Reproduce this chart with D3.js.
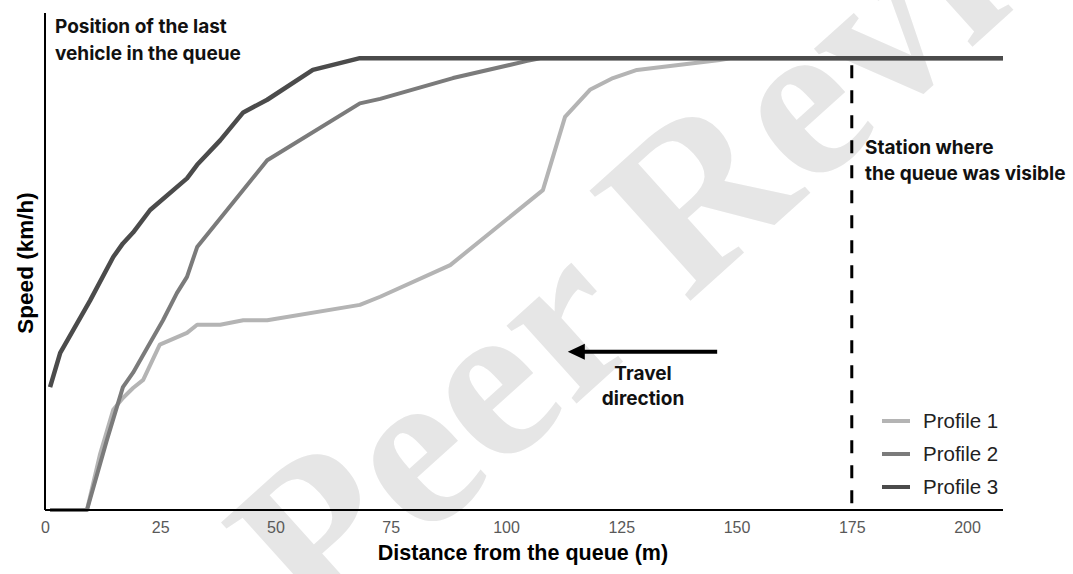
<!DOCTYPE html>
<html><head><meta charset="utf-8">
<script src="https://cdn.jsdelivr.net/npm/d3@7"></script>
<style>body{margin:0;background:#fff}</style></head>
<body><svg id="c" width="1073" height="574"></svg>
<script>
// ---- data ----
const xTicks = [0, 25, 50, 75, 100, 125, 150, 175, 200];
const profileNames = ["Profile 1", "Profile 2", "Profile 3"];
const profileColors = ["#b4b4b4", "#7b7b7b", "#4b4b4b"];

const profile1Distance = [1.1, 9.1, 11.9, 14.8, 16.9, 19.1, 21.3, 24.9, 30.8, 33.0, 38.0, 43.0, 48.2, 68.3, 72.7, 87.9, 108.0, 112.8, 118.2, 123.2, 128.4, 146.4, 148.6, 207.8];
const profile1Speed    = [0, 0, 6.1, 11.1, 12.4, 13.5, 14.4, 18.3, 19.6, 20.5, 20.5, 21.0, 21.0, 22.7, 23.6, 27.1, 35.4, 43.5, 46.5, 47.8, 48.7, 49.8, 50, 50];

const profile2Distance = [1.1, 9.1, 13.4, 16.9, 19.1, 22.8, 25.6, 28.6, 30.8, 33.0, 48.2, 68.3, 72.7, 88.5, 104.6, 107.4, 207.8];
const profile2Speed    = [0, 0, 7.7, 13.6, 15.2, 18.5, 21.0, 24.0, 25.8, 29.1, 38.7, 45.0, 45.5, 47.8, 49.7, 50, 50];

const profile3Distance = [1.1, 3.3, 9.8, 14.8, 16.9, 19.1, 22.8, 30.8, 33.0, 38.0, 43.0, 48.2, 58.1, 68.3, 207.8];
const profile3Speed    = [13.6, 17.4, 23.2, 28.0, 29.5, 30.7, 33.2, 36.7, 38.2, 40.9, 44.0, 45.4, 48.7, 50, 50];

const stationDistance = 175;
const xMax = 207.8, yMax = 55;

// ---- drawing ----
const svg = d3.select("#c");
const x = d3.scaleLinear().domain([0, xMax]).range([45, 1003]);
const y = d3.scaleLinear().domain([0, yMax]).range([510, 13]);

// watermark (behind)
svg.append("text")
  .attr("transform", "translate(318,636) rotate(-42)")
  .attr("font-family", "Liberation Serif, DejaVu Serif, serif")
  .attr("font-weight", "bold")
  .attr("font-size", 228)
  .attr("fill", "#e6e6e6")
  .text("Peer Review");

const series = [
  {d: profile1Distance, s: profile1Speed},
  {d: profile2Distance, s: profile2Speed},
  {d: profile3Distance, s: profile3Speed}
];
const line = d3.line().x(p => x(p[0])).y(p => y(p[1]));
series.forEach((sr, i) => {
  svg.append("path")
    .datum(sr.d.map((v, k) => [v, sr.s[k]]))
    .attr("d", line)
    .attr("fill", "none")
    .attr("stroke", profileColors[i])
    .attr("stroke-width", i === 2 ? 4.5 : 4)
    .attr("stroke-linejoin", "round");
});

// station dashed line
svg.append("line")
  .attr("x1", x(stationDistance)).attr("x2", x(stationDistance))
  .attr("y1", y(50) + 7).attr("y2", y(0))
  .attr("stroke", "#000").attr("stroke-width", 3)
  .attr("stroke-dasharray", "13,12");

// axes
const xAxis = d3.axisBottom(x).tickValues(xTicks).tickSize(0).tickPadding(12);
const gx = svg.append("g").attr("transform", `translate(0,${y(0)})`).call(xAxis);
gx.select(".domain").attr("stroke", "#000").attr("stroke-width", 2).attr("d", `M${x(0)},0H${x(xMax)}`);
gx.selectAll("text").attr("font-family", "Liberation Sans, Arial, sans-serif").attr("font-size", 16).attr("fill", "#595959");

svg.append("line").attr("x1", x(0)).attr("x2", x(0)).attr("y1", y(yMax)).attr("y2", y(0))
  .attr("stroke", "#000").attr("stroke-width", 2);

// axis titles
svg.append("text").attr("x", 523).attr("y", 560).attr("text-anchor", "middle")
  .attr("font-family", "Liberation Sans, Arial, sans-serif").attr("font-weight", "bold").attr("font-size", 21.5)
  .attr("fill", "#000").text("Distance from the queue (m)");
svg.append("text").attr("transform", "translate(33,263) rotate(-90)").attr("text-anchor", "middle")
  .attr("font-family", "Liberation Sans, Arial, sans-serif").attr("font-weight", "bold").attr("font-size", 22.5)
  .attr("fill", "#000").text("Speed (km/h)");

// annotations
const annFont = "Inter, Lato, sans-serif";
function ann(lines, ax, ay, anchor, gap) {
  const t = svg.append("text").attr("font-family", annFont).attr("font-weight", "bold")
    .attr("font-size", 19).attr("fill", "#111").attr("text-anchor", anchor);
  lines.forEach((l, i) => t.append("tspan").attr("x", ax).attr("y", ay + i * gap).text(l));
}
ann(["Position of the last", "vehicle in the queue"], 55, 33, "start", 27);
ann(["Station where", "the queue was visible"], 865, 154, "start", 26);
ann(["Travel", "direction"], 643, 380, "middle", 25);

// arrow
const arrowY = 17.5;
svg.append("line").attr("x1", x(145.8)).attr("x2", x(116)).attr("y1", y(arrowY)).attr("y2", y(arrowY))
  .attr("stroke", "#000").attr("stroke-width", 4);
const tip = x(113.4), ay = y(arrowY);
svg.append("path").attr("d", `M${tip},${ay}L${tip+17},${ay-8}L${tip+17},${ay+8}Z`).attr("fill", "#000");

// legend
const lg = svg.append("g");
profileNames.forEach((n, i) => {
  const ly = 421 + i * 33;
  lg.append("line").attr("x1", 882).attr("x2", 910).attr("y1", ly).attr("y2", ly)
    .attr("stroke", profileColors[i]).attr("stroke-width", 4);
  lg.append("text").attr("x", 923).attr("y", ly + 7).attr("font-family", "Liberation Sans, Arial, sans-serif")
    .attr("font-size", 20.5).attr("fill", "#222").text(n);
});
</script></body></html>
